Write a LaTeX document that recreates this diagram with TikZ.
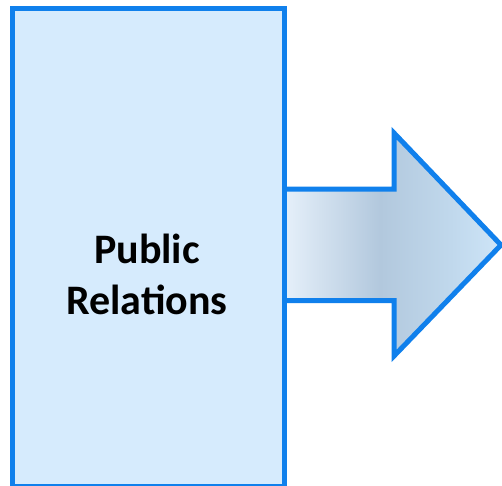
\documentclass[tikz,border=0pt]{standalone}
\usepackage{fontspec}
\setmainfont{Carlito}
\definecolor{edgeblue}{RGB}{16,128,236}
\definecolor{boxfill}{RGB}{214,235,253}
\definecolor{gA}{RGB}{230,240,250}
\definecolor{gB}{RGB}{178,200,221}
\definecolor{gD}{RGB}{192,216,236}
\definecolor{gC}{RGB}{206,229,248}
\pgfdeclarehorizontalshading{arrowshade}{100bp}{color(0bp)=(gA); color(28bp)=(gA); color(48.8bp)=(gB); color(64bp)=(gD); color(75bp)=(gC); color(100bp)=(gC)}
\tikzset{
  boxstyle/.style={draw=edgeblue, fill=boxfill, line width=5pt},
  arrowstyle/.style={draw=edgeblue, line width=5pt, shading=arrowshade, miter limit=10},
  label/.style={font=\bfseries\fontsize{42}{51}\selectfont, align=center, text=black}
}
\begin{document}
\begin{tikzpicture}[x=1pt,y=-1pt]
\useasboundingbox (0,0) rectangle (502,485);
\path[arrowstyle] (270,189) -- (394,189) -- (394,133) -- (501,245) -- (394,356) -- (394,300.5) -- (270,300.5) -- cycle;
\node[boxstyle, minimum width=271.5pt, minimum height=477.7pt, inner sep=0pt, anchor=north west] (box) at (10,5.8) {};
\node[label] (txt) at (147,274) {Public\\Relations};
\end{tikzpicture}
\end{document}
